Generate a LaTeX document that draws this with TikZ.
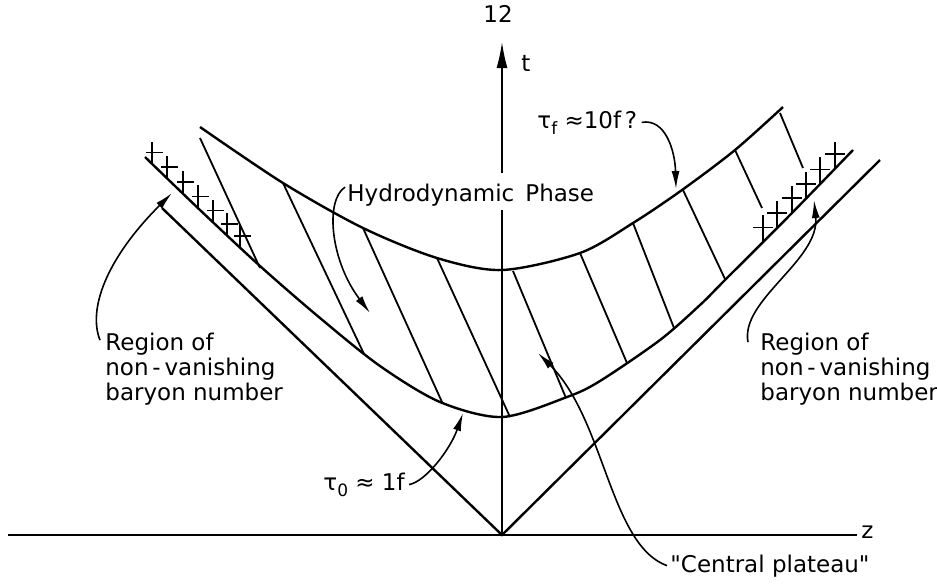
\documentclass[tikz,border=0pt]{standalone}
\usepackage{fontspec}
\setmainfont{DejaVu Sans}[Ligatures=TeXOff]
\usetikzlibrary{arrows.meta}
\newcommand{\lowidx}[1]{\raisebox{-0.5ex}{\fontsize{8.5}{8.5}\selectfont #1}}

\begin{document}
\begin{tikzpicture}[
  x=0.5pt, y=-0.5pt,
  font=\fontsize{11.5}{12.5}\selectfont,
  axisline/.style={line width=0.8pt},
  cone/.style={line width=1.2pt},
  curve/.style={line width=1.2pt},
  hatchline/.style={line width=0.9pt},
  crossmark/.style={line width=0.8pt},
  pointer/.style={line width=0.8pt, -{Latex[length=9pt, width=4pt]}},
  lbl/.style={inner sep=0pt, align=left}
]
\useasboundingbox (0,0) rectangle (937,586);

% axes
\coordinate (O) at (502,535);
\coordinate (zl) at (8,535);
\coordinate (zr) at (857,535);
\coordinate (tgapl) at (502,210);
\coordinate (tgapu) at (502,173);
\coordinate (ttop) at (502,42);
\node[lbl] (page) at (498,14) {12};
\node[lbl] (tlab) at (526,63) {t};
\node[lbl, anchor=base west] (zlab) at (861,538) {z};
\draw[axisline] (zl) -- (zr);
\draw[axisline] (O) -- (tgapl);
\draw[axisline, -{Latex[length=13pt, width=5.5pt]}] (tgapu) -- (ttop);

% light cone
\coordinate (lcone) at (162,208);
\coordinate (rcone) at (880,160);
\draw[cone] (lcone) -- (O) -- (rcone);

% tau_0 and tau_f
\draw[curve] plot[smooth] coordinates {(145,157) (200,210) (260,266) (320,318) (380,366)
  (440,402) (502,417) (567,397) (600,381) (660,340) (700,305) (725,280) (790,215) (853,150)};
\draw[curve] plot[smooth] coordinates {(200,127) (283,183) (363,228) (437,258) (502,270)
  (580,253) (633,223) (682,190) (735,150) (783,107)};

% hatching
\foreach \xa/\ya/\xb/\yb in {200/138/260/268, 283/183/364/354, 363/228/442/402,
  437/258/510/417, 513/271/566/398, 580/253/627/363, 633/223/674/328,
  683/190/725/279, 735/150/762/208, 780/113/803/168}
  \draw[hatchline] (\xa,\ya) -- (\xb,\yb);

% baryon crosses
\foreach \cx in {152,167,183,198,213,227,240}{
  \pgfmathsetmacro{\cy}{157+0.95*(\cx-145)}
  \draw[crossmark] (\cx,\cy) -- (\cx,\cy-22) (\cx-6,\cy-11) -- (\cx+11,\cy-11);
}
\foreach \cx in {763,777,792,806,820,835}{
  \pgfmathsetmacro{\cy}{280-1.016*(\cx-725)}
  \draw[crossmark] (\cx,\cy) -- (\cx,\cy-26) (\cx-10,\cy-14) -- (\cx+10,\cy-14);
}

% labels
\node[lbl, anchor=base west] (hydro) at (347,201) {Hydrodynamic\, Phase};
\node[lbl, anchor=base west] (tauf) at (537,128) {τ\lowidx{f} ≈10f\,?};
\node[lbl, anchor=base west] (tau0) at (323,490) {τ\lowidx{0} ≈ 1f};
\node[lbl, anchor=base west] (cplat) at (670,572) {"Central plateau"};
\node[lbl, anchor=base west] (lreg) at (105,400) {Region of\\non\,-\,vanishing\\baryon number};
\node[lbl, anchor=base west] (rreg) at (760,400) {Region of\\non\,-\,vanishing\\baryon number};

% pointers
\coordinate (lregtip) at (172,193);
\coordinate (rregtip) at (814,200);
\coordinate (hydrotip) at (370,313);
\coordinate (tauftip) at (676,189);
\coordinate (tau0tip) at (463,413);
\coordinate (cplattip) at (538,353);
\draw[pointer] ([shift={(-5,8)}]lreg.north west) .. controls (88,310) and (105,260) .. (lregtip);
\draw[pointer] ([shift={(-12,10)}]rreg.north west) .. controls (740,300) and (820,260) .. (rregtip);
\draw[pointer] ([shift={(-2,4)}]hydro.north west) .. controls (325,200) and (330,260) .. (hydrotip);
\draw[pointer] ([shift={(4,0)}]tauf.east) .. controls (665,118) and (675,150) .. (tauftip);
\draw[pointer] ([shift={(4,0)}]tau0.east) .. controls (425,482) and (450,450) .. (tau0tip);
\draw[pointer] ([shift={(-3,0)}]cplat.west) .. controls (610,545) and (605,420) .. (cplattip);
\end{tikzpicture}
\end{document}
